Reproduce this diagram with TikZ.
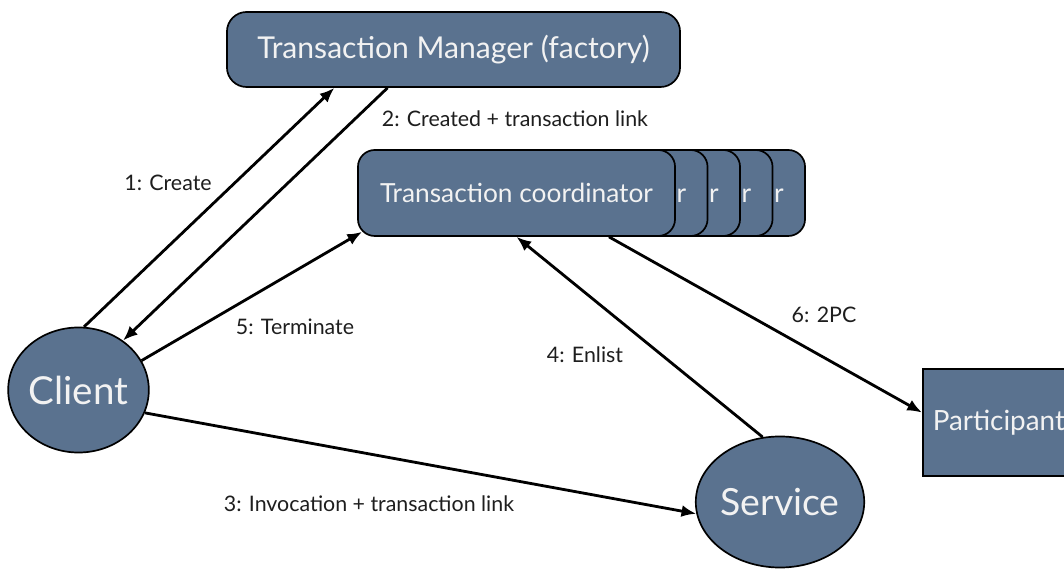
\documentclass[tikz,border=0pt]{standalone}
\usepackage{fontspec}
\setmainfont{Lato}
\usetikzlibrary{arrows.meta,calc,shapes.geometric}

\definecolor{boxblue}{RGB}{90,114,143}
\definecolor{boxtext}{RGB}{242,242,242}
\definecolor{labeltext}{RGB}{30,30,30}

\begin{document}
\begin{tikzpicture}[x=0.025cm,y=-0.025cm,
	blob/.style={draw=black,line width=1.2pt,fill=boxblue,text=boxtext,inner sep=0pt},
	mgrbox/.style={blob,rounded corners=14pt,minimum width=11.325cm,minimum height=1.875cm,font=\fontsize{21.4}{24}\selectfont},
	coordbox/.style={blob,rounded corners=12pt,minimum width=7.925cm,minimum height=2.15cm,font=\fontsize{18.7}{22}\selectfont},
	oval/.style={blob,ellipse},
	msg/.style={line width=2pt,-{Latex[length=10.5pt,width=8.5pt]}},
	lbl/.style={text=labeltext,inner sep=0pt,font=\fontsize{15.2}{18}\selectfont}]
	\fill[white] (0,0) rectangle (1064,569);
	\useasboundingbox (0,0) rectangle (1064,569);

	% boxes
	\node[mgrbox] (tm) at (453.5,49.5) {Transaction Manager (factory)};
	\foreach \dx/\nm in {130/c4,97.5/c3,65/c2,32.5/c1}{
		\node[coordbox] (\nm) at (516.5+\dx,193) {\phantom{Transaction coordinator}};
		\node[inner sep=0pt,text=boxtext,font=\fontsize{18.7}{22}\selectfont,anchor=base east] (r\nm) at ($(\nm.base east)+(-22,0)$) {r};
	}
	\node[coordbox] (coord) at (516.5,193) {Transaction coordinator};
	\node[blob,anchor=north west,minimum width=3.8cm,minimum height=2.675cm,font=\fontsize{19.8}{23}\selectfont] (part) at (922,368) {Participant};
	\node[oval,minimum width=3.425cm,minimum height=3.125cm,font=\fontsize{27.4}{32}\selectfont] (client) at (78.5,390) {Client};
	\node[oval,minimum width=3.75cm,minimum height=3.275cm,font=\fontsize{26.6}{31}\selectfont] (service) at (780,502) {Service};

	% messages
	\draw[msg] (client.85) -- ($(tm.south west)!0.238!(tm.south east)$);
	\draw[msg] ($(tm.south west)!0.355!(tm.south east)$) -- (client.48);
	\draw[msg] (client.-19) -- (service.188);
	\draw[msg] (service.105) -- (coord.south);
	\draw[msg] (client.25) -- ($(coord.south west)+(5,-5)$);
	\draw[msg] ($(coord.south west)!0.79!(coord.south east)$) -- ($(part.north west)!0.41!(part.south west)$);

	\node[lbl] (l1) at (168,183) {1: Create};
	\node[lbl] (l2) at (515,119) {2: Created + transaction link};
	\node[lbl] (l3) at (369,504) {3: Invocation + transaction link};
	\node[lbl] (l4) at (585,355) {4: Enlist};
	\node[lbl] (l5) at (295,327) {5: Terminate};
	\node[lbl] (l6) at (824,315) {6: 2PC};
\end{tikzpicture}
\end{document}
